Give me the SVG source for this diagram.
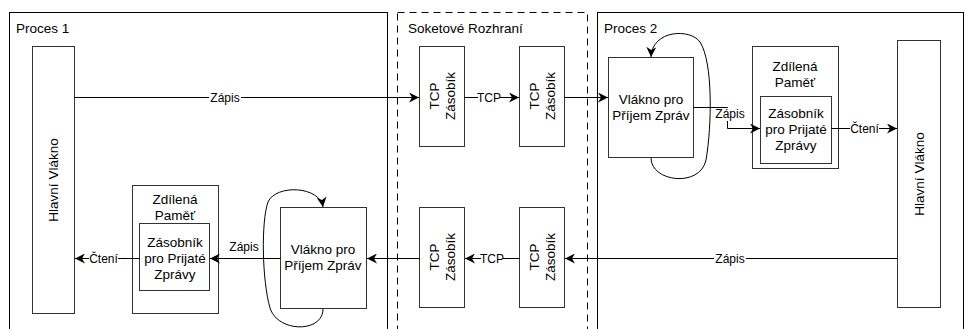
<svg xmlns="http://www.w3.org/2000/svg" width="965" height="329" viewBox="0 0 965 329">
<style>
.frame{fill:#fff;stroke:#000;stroke-width:1}
.dash{fill:none;stroke:#000;stroke-width:1;stroke-dasharray:7 5}
.box{fill:#fff;stroke:#333;stroke-width:1}
.t{font-family:"Liberation Sans",Arial,sans-serif;font-size:13.5px;fill:#000}
.c{text-anchor:middle}
.el{font-family:"Liberation Sans",Arial,sans-serif;font-size:12px;fill:#000;text-anchor:middle}
.e{fill:none;stroke:#000;stroke-width:1}
.bg{fill:#fff}
</style>
<defs>
<marker id="arr" markerUnits="userSpaceOnUse" markerWidth="12" markerHeight="10" refX="10" refY="5" orient="auto">
<path d="M0,0 L10,5 L0,10 L3,5 Z" fill="#000"/>
</marker>
</defs>

<g id="proces1">
<rect class="frame" x="9.5" y="12.5" width="378" height="330"/>
<text class="t" x="16" y="33">Proces 1</text>
</g>
<g id="soket">
<rect class="dash" x="397.5" y="12.5" width="190" height="330"/>
<text class="t" x="408" y="33">Soketové Rozhraní</text>
</g>
<g id="proces2">
<rect class="frame" x="597.5" y="12.5" width="366" height="330"/>
<text class="t" x="604" y="33">Proces 2</text>
</g>

<g id="hlavni1">
<rect class="box" x="32.5" y="46.5" width="42" height="267"/>
<text class="t c" transform="translate(58,180) rotate(-90)">Hlavní Vlákno</text>
</g>
<g id="hlavni2">
<rect class="box" x="897.5" y="40.5" width="43" height="267"/>
<text class="t c" transform="translate(924,174) rotate(-90)">Hlavní Vlákno</text>
</g>

<g id="tcp1">
<rect class="box" x="419.5" y="46.5" width="45" height="100"/>
<text class="t c" transform="translate(439,96) rotate(-90)">TCP</text>
<text class="t c" transform="translate(455,96) rotate(-90)">Zásobík</text>
</g>
<g id="tcp2">
<rect class="box" x="519.5" y="46.5" width="45" height="100"/>
<text class="t c" transform="translate(539,96) rotate(-90)">TCP</text>
<text class="t c" transform="translate(555,96) rotate(-90)">Zásobík</text>
</g>
<g id="tcp3">
<rect class="box" x="419.5" y="207.5" width="45" height="100"/>
<text class="t c" transform="translate(439,257) rotate(-90)">TCP</text>
<text class="t c" transform="translate(455,257) rotate(-90)">Zásobík</text>
</g>
<g id="tcp4">
<rect class="box" x="519.5" y="207.5" width="45" height="100"/>
<text class="t c" transform="translate(539,257) rotate(-90)">TCP</text>
<text class="t c" transform="translate(555,257) rotate(-90)">Zásobík</text>
</g>

<g id="vlakno2">
<rect class="box" x="608.5" y="57.5" width="85" height="100"/>
<text class="t c" x="651" y="104">Vlákno pro</text>
<text class="t c" x="651" y="120">Příjem Zpráv</text>
</g>
<g id="vlakno1">
<rect class="box" x="280.5" y="207.5" width="86" height="101"/>
<text class="t c" x="323" y="254">Vlákno pro</text>
<text class="t c" x="323" y="270">Příjem Zpráv</text>
</g>

<g id="pamet2">
<rect class="box" x="752.5" y="46.5" width="86" height="122"/>
<text class="t c" x="795" y="71">Zdílená</text>
<text class="t c" x="795" y="87">Paměť</text>
</g>
<g id="zasobnik2">
<rect class="box" x="760.5" y="96.5" width="71" height="67"/>
<text class="t c" x="796" y="118">Zásobník</text>
<text class="t c" x="796" y="134">pro Prijaté</text>
<text class="t c" x="796" y="150">Zprávy</text>
</g>
<g id="pamet1">
<rect class="box" x="132.5" y="185.5" width="86" height="128"/>
<text class="t c" x="175" y="204">Zdílená</text>
<text class="t c" x="175" y="220">Paměť</text>
</g>
<g id="zasobnik1">
<rect class="box" x="139.5" y="223.5" width="70" height="67"/>
<text class="t c" x="175" y="247">Zásobník</text>
<text class="t c" x="175" y="263">pro Prijaté</text>
<text class="t c" x="175" y="279">Zprávy</text>
</g>

<g id="connectors">
<path class="e" d="M74.5,97.5 H419" marker-end="url(#arr)"/>
<rect class="bg" x="209" y="90" width="32" height="14"/>
<text class="el" x="225" y="101.5">Zápis</text>

<path class="e" d="M464.5,97.5 H519" marker-end="url(#arr)"/>
<rect class="bg" x="478" y="90" width="22" height="14"/>
<text class="el" x="489" y="101.5">TCP</text>

<path class="e" d="M564.5,97.5 H608" marker-end="url(#arr)"/>

<path class="e" d="M693.5,107.5 H727.5 V128.5 H760" marker-end="url(#arr)"/>
<rect class="bg" x="715" y="108" width="30" height="13"/>
<text class="el" x="730" y="118">Zápis</text>

<path class="e" d="M831.5,128.5 H897" marker-end="url(#arr)"/>
<rect class="bg" x="850" y="121" width="29" height="14"/>
<text class="el" x="864.5" y="132.5">Čtení</text>

<path class="e" d="M897.5,258.5 H565" marker-end="url(#arr)"/>
<rect class="bg" x="714" y="251" width="32" height="14"/>
<text class="el" x="730" y="263">Zápis</text>

<path class="e" d="M519.5,258.5 H465" marker-end="url(#arr)"/>
<rect class="bg" x="481" y="251" width="22" height="14"/>
<text class="el" x="492" y="262.5">TCP</text>

<path class="e" d="M419.5,258.5 H367" marker-end="url(#arr)"/>

<path class="e" d="M280.5,258.5 H210" marker-end="url(#arr)"/>
<text class="el" x="244" y="251">Zápis</text>

<path class="e" d="M139.5,258.5 H75" marker-end="url(#arr)"/>
<rect class="bg" x="89" y="251" width="29" height="14"/>
<text class="el" x="103.5" y="262.5">Čtení</text>

<path class="e" d="M651,158 C651,182 700,188 706,160 C712,125 713,62 700,42 C690,28 652,30 651,57" marker-end="url(#arr)"/>
<path class="e" d="M323,309 C323,333 278,333 270,308 C262,280 261,222 268,202 C276,184 320,186 323,207" marker-end="url(#arr)"/>
</g>
</svg>
